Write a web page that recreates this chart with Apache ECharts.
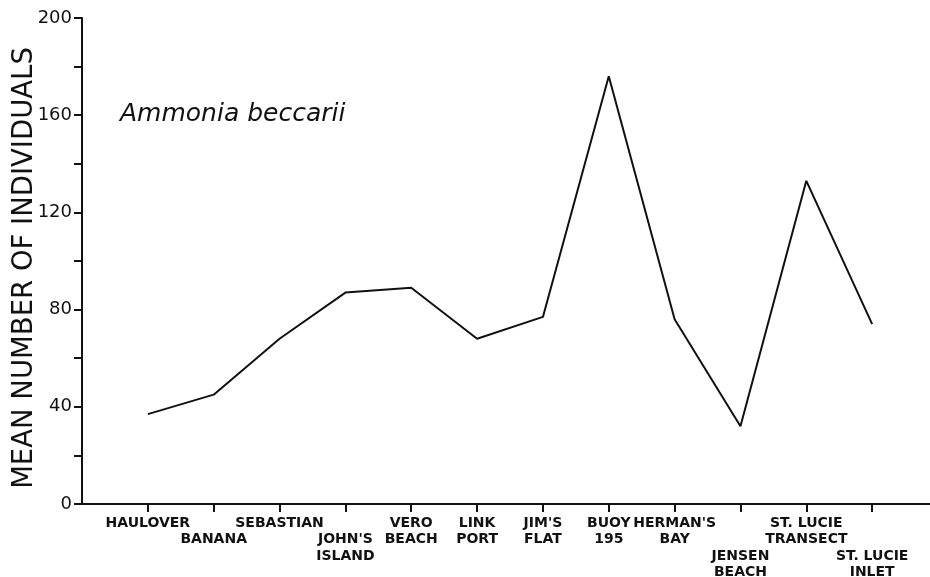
<!DOCTYPE html>
<html>
<head>
<meta charset="utf-8">
<script src="https://cdn.jsdelivr.net/npm/echarts@6/dist/echarts.min.js"></script>
<style>
html, body { margin: 0; padding: 0; background: #fff; }
#chart { width: 930px; height: 577px; }
</style>
</head>
<body>
<div id="chart"></div>
<script>
var sites = ['HAULOVER', 'BANANA', 'SEBASTIAN', "JOHN'S\nISLAND", 'VERO\nBEACH', 'LINK\nPORT',
  "JIM'S\nFLAT", 'BUOY\n195', "HERMAN'S\nBAY", 'JENSEN\nBEACH', 'ST. LUCIE\nTRANSECT', 'ST. LUCIE\nINLET'];
var meanCount = [37, 45, 68, 87, 89, 68, 77, 176, 76, 32, 133, 74];
var yLabels = [0, 40, 80, 120, 160, 200];

// blank lines above each site label, so they stagger like the original
var labelDrop = [0, 1, 0, 1, 0, 0, 0, 0, 0, 2, 0, 2];

var ink = '#111';
var myChart = echarts.init(document.getElementById('chart'));
option = {
  animation: false,
  title: {
    text: 'Ammonia beccarii',
    left: 115,
    top: 97,
    textStyle: {
      fontFamily: 'DejaVu Sans',
      fontStyle: 'italic',
      fontWeight: 'normal',
      fontSize: 25,
      color: ink
    }
  },
  grid: {
    left: 82,
    right: -8,
    top: 18,
    bottom: 73,
    outerBoundsMode: 'none'
  },
  xAxis: {
    type: 'category',
    boundaryGap: false,
    data: [''].concat(sites, ['']),
    axisLine: { lineStyle: { color: ink, width: 2 } },
    axisTick: {
      length: 8,
      interval: function (i) { return i > 0 && i <= sites.length; },
      lineStyle: { color: ink, width: 2 }
    },
    axisLabel: {
      interval: 0,
      margin: 11,
      fontFamily: 'DejaVu Sans',
      fontWeight: 'bold',
      fontSize: 14,
      lineHeight: 16.5,
      color: ink,
      formatter: function (v, i) {
        if (!v) return '';
        return '\n'.repeat(labelDrop[i - 1]) + v;
      }
    },
    splitLine: { show: false }
  },
  yAxis: {
    type: 'value',
    min: 0,
    max: 200,
    interval: 20,
    name: 'MEAN NUMBER OF INDIVIDUALS',
    nameLocation: 'middle',
    nameGap: 43,
    nameMoveOverlap: false,
    nameTextStyle: {
      fontFamily: 'DejaVu Sans',
      fontSize: 27.5,
      color: ink,
      padding: [0, 14, 0, 0]
    },
    axisLine: { show: true, lineStyle: { color: ink, width: 2 } },
    axisTick: { show: true, length: 8, lineStyle: { color: ink, width: 2 } },
    axisLabel: {
      margin: 10,
      fontFamily: 'DejaVu Sans',
      fontSize: 18,
      color: ink,
      formatter: function (v) { return yLabels.indexOf(v) >= 0 ? String(v) : ''; }
    },
    splitLine: { show: false }
  },
  series: [
    {
      type: 'line',
      data: [null].concat(meanCount, [null]),
      symbol: 'none',
      lineStyle: { color: ink, width: 2 }
    }
  ]
};
myChart.setOption(option);
</script>
</body>
</html>
